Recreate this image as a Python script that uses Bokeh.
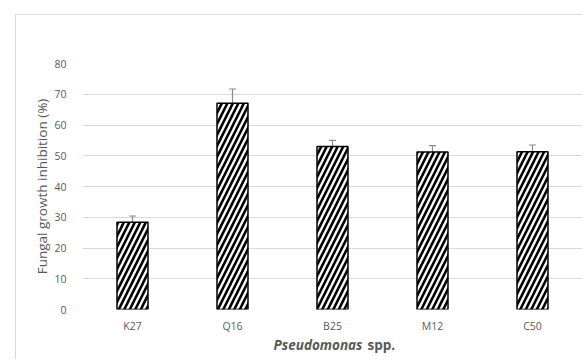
from bokeh.plotting import figure
from bokeh.layouts import column
from bokeh.models import ColumnDataSource, Whisker, TeeHead, Label, FixedTicker
from bokeh.embed import file_html
from bokeh.resources import INLINE

strains = ["K27", "Q16", "B25", "M12", "C50"]
inhibition = [28.4, 67.1, 53.0, 51.2, 51.3]
error = [2.0, 4.6, 2.0, 2.1, 2.2]
y_ticks = [0, 10, 20, 30, 40, 50, 60, 70, 80]

upper = [v + e for v, e in zip(inhibition, error)]
src = ColumnDataSource(dict(x=strains, top=inhibition, upper=upper))

FONT = "Open Sans"
GRAY = "#595959"
EDGE = "#d9d9d9"

p = figure(x_range=strains, y_range=(0, 80), width=582, height=335,
           output_backend="svg", toolbar_location=None,
           min_border_left=82, min_border_right=0, min_border_top=63, min_border_bottom=26)
p.styles = {"box-shadow": f"inset 15px 14px 0 0 white, inset 16px 15px 0 0 {EDGE}"}
p.outline_line_color = None
p.background_fill_color = "white"
p.border_fill_color = None

p.vbar(x="x", top="top", width=0.31, source=src, fill_color="white",
       line_color="black", line_width=1.5, hatch_pattern="/", hatch_color="black",
       hatch_weight=2.6, hatch_scale=11)

wh = Whisker(base="x", upper="upper", lower="top", source=src, line_color="#8c8c8c",
             line_width=1.2, lower_head=None,
             upper_head=TeeHead(size=7, line_color="#8c8c8c", line_width=1.2))
p.add_layout(wh)

p.xgrid.grid_line_color = None
p.ygrid.grid_line_color = EDGE
p.ygrid.grid_line_width = 1
p.yaxis.ticker = FixedTicker(ticks=y_ticks)

for ax in (p.xaxis, p.yaxis):
    ax.axis_line_color = None
    ax.major_tick_line_color = None
    ax.minor_tick_line_color = None
    ax.major_label_text_color = GRAY
    ax.major_label_text_font = FONT
    ax.major_label_text_font_size = "10.5px"

p.yaxis.major_label_standoff = 10
p.xaxis.major_label_standoff = 3
p.yaxis.axis_label = "Fungal growth inhibition (%)"
p.yaxis.axis_label_text_font = FONT
p.yaxis.axis_label_text_font_style = "normal"
p.yaxis.axis_label_text_font_size = "13.5px"
p.yaxis.axis_label_text_color = GRAY
p.yaxis.axis_label_standoff = 0

q = figure(x_range=p.x_range, y_range=(0, 1), width=582, height=24,
           output_backend="svg", toolbar_location=None,
           min_border_left=82, min_border_right=0, min_border_top=0, min_border_bottom=0,
           x_axis_location=None, y_axis_location=None)
q.styles = {"box-shadow": f"inset 15px 0 0 0 white, inset 16px 0 0 0 {EDGE}"}
q.outline_line_color = None
q.background_fill_color = None
q.border_fill_color = None
q.grid.visible = False

lab1 = Label(x=2.5, y=0.6, x_offset=30, text="Pseudomonas",
             text_align="right", text_baseline="middle", text_font=FONT,
             text_font_style="bold italic", text_font_size="13.5px", text_color=GRAY)
lab2 = Label(x=2.5, y=0.6, x_offset=35, text="spp.",
             text_align="left", text_baseline="middle", text_font=FONT,
             text_font_style="bold", text_font_size="13.5px", text_color=GRAY)
q.add_layout(lab1)
q.add_layout(lab2)

layout = column(p, q, spacing=0)
open("out.html", "w").write(file_html(layout, INLINE))
